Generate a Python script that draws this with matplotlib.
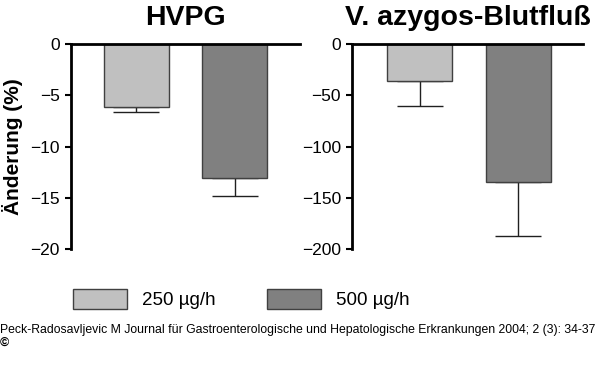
import matplotlib
matplotlib.use("Agg")
import matplotlib.pyplot as plt

plt.rcParams['font.family'] = ['Liberation Sans', 'DejaVu Sans']

groups = ["250 µg/h", "500 µg/h"]
hvpg_mean = [-6.1, -13.1]
hvpg_err = [0.5, 1.7]
azyg_mean = [-36, -135]
azyg_err = [24, 52]
titles = ["HVPG", "V. azygos-Blutfluß"]
hvpg_ticks = [0, -5, -10, -15, -20]
azyg_ticks = [0, -50, -100, -150, -200]
ylabel = "Änderung (%)"
footer = ("Peck-Radosavljevic M Journal für Gastroenterologische und "
          "Hepatologische Erkrankungen 2004; 2 (3): 34-37")

colors = ["#c0c0c0", "#808080"]
edge = "#404040"

fig = plt.figure(figsize=(6.0, 3.79), dpi=100)
ax1 = fig.add_axes([71/600, 1-249/379, 229/600, 205/379])
ax2 = fig.add_axes([352/600, 1-249/379, 231/600, 205/379])

xpos = [1.0, 2.52]

def draw(ax, means, errs, ticks, title, xlim):
    bars = []
    for x, m, e, c, lab in zip(xpos, means, errs, colors, groups):
        b = ax.bar(x, m, width=1.0, color=c, edgecolor=edge, linewidth=1.0, label=lab, zorder=2)
        bars.append(b)
        ax.errorbar(x, m, yerr=[[e], [0]], fmt='none', ecolor='#202020',
                    elinewidth=1.0, capsize=16.5, capthick=1.0, zorder=1)
    ax.set_ylim(ticks[-1], ticks[0])
    ax.set_yticks(ticks)
    ax.set_yticklabels([("−" + str(abs(t))) if t < 0 else str(t) for t in ticks])
    ax.set_xlim(*xlim)
    ax.set_xticks([])
    for s in ["bottom", "right"]:
        ax.spines[s].set_visible(False)
    for s in ["left", "top"]:
        ax.spines[s].set_linewidth(2.0)
        ax.spines[s].set_color("black")
    ax.tick_params(axis='y', direction='out', length=4, width=1.5, pad=4, labelsize=12.5)
    ax.set_title(title, fontsize=20.5, fontweight='bold', pad=14)
    return bars

bars = draw(ax1, hvpg_mean, hvpg_err, hvpg_ticks, titles[0], (0, 229/65))
draw(ax2, azyg_mean, azyg_err, azyg_ticks, titles[1], (-0.04, 231/65 - 0.04))
ax1.set_ylabel(ylabel, fontsize=15, fontweight='bold', labelpad=5)

fig.legend(handles=[b[0] for b in bars], labels=groups, loc='center',
           bbox_to_anchor=(241/600, 1-299/379), ncol=2, frameon=False,
           fontsize=13.5, handlelength=2.88, handleheight=1.28,
           handletextpad=0.8, columnspacing=2.75)

fig.text(0.0, 1-330/379, footer, fontsize=8.8, ha='left', va='center')
fig.text(0.0, 1-343/379, "©", fontsize=9, ha='left', va='center', fontweight='bold')

fig.savefig("out.png", dpi=100)
